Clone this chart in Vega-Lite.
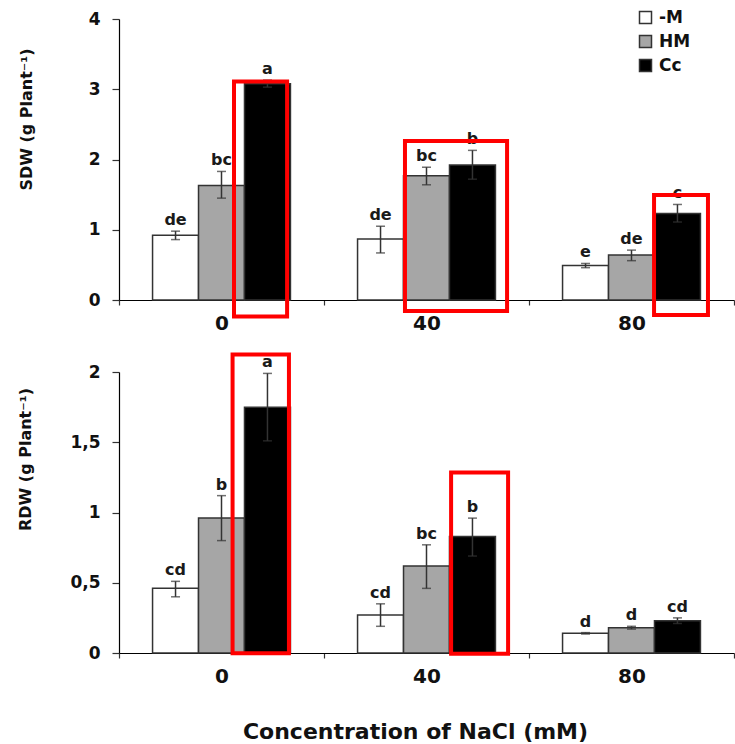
{
  "$schema": "https://vega.github.io/schema/vega-lite/v6.json",
  "padding": {"left": 17, "top": 9, "right": 0, "bottom": 0},
  "autosize": {"type": "pad"},
  "bounds": "flush",
  "spacing": 72,
  "config": {
    "view": {"stroke": null},
    "font": "DejaVu Sans",
    "axis": {
      "grid": false,
      "domainColor": "#000000",
      "domainWidth": 1.2,
      "tickColor": "#333333",
      "tickWidth": 1.2,
      "labelFont": "DejaVu Sans",
      "labelFontWeight": "bold",
      "labelColor": "#111111",
      "titleFont": "DejaVu Sans",
      "titleFontWeight": "bold",
      "titleColor": "#111111"
    }
  },
  "datasets": {
    "sdw": [
      {"nacl": "0", "treatment": "-M", "mean": 0.92, "lo": 0.86, "hi": 0.98, "letter": "de"},
      {"nacl": "0", "treatment": "HM", "mean": 1.63, "lo": 1.45, "hi": 1.83, "letter": "bc"},
      {"nacl": "0", "treatment": "Cc", "mean": 3.08, "lo": 3.03, "hi": 3.13, "letter": "a"},
      {"nacl": "40", "treatment": "-M", "mean": 0.87, "lo": 0.67, "hi": 1.05, "letter": "de"},
      {"nacl": "40", "treatment": "HM", "mean": 1.77, "lo": 1.64, "hi": 1.89, "letter": "bc"},
      {"nacl": "40", "treatment": "Cc", "mean": 1.92, "lo": 1.72, "hi": 2.13, "letter": "b"},
      {"nacl": "80", "treatment": "-M", "mean": 0.49, "lo": 0.46, "hi": 0.52, "letter": "e"},
      {"nacl": "80", "treatment": "HM", "mean": 0.64, "lo": 0.56, "hi": 0.71, "letter": "de"},
      {"nacl": "80", "treatment": "Cc", "mean": 1.23, "lo": 1.11, "hi": 1.36, "letter": "c"}
    ],
    "rdw": [
      {"nacl": "0", "treatment": "-M", "mean": 0.46, "lo": 0.40, "hi": 0.51, "letter": "cd"},
      {"nacl": "0", "treatment": "HM", "mean": 0.96, "lo": 0.80, "hi": 1.12, "letter": "b"},
      {"nacl": "0", "treatment": "Cc", "mean": 1.75, "lo": 1.51, "hi": 1.99, "letter": "a"},
      {"nacl": "40", "treatment": "-M", "mean": 0.27, "lo": 0.19, "hi": 0.35, "letter": "cd"},
      {"nacl": "40", "treatment": "HM", "mean": 0.62, "lo": 0.46, "hi": 0.77, "letter": "bc"},
      {"nacl": "40", "treatment": "Cc", "mean": 0.83, "lo": 0.69, "hi": 0.96, "letter": "b"},
      {"nacl": "80", "treatment": "-M", "mean": 0.14, "lo": 0.135, "hi": 0.145, "letter": "d"},
      {"nacl": "80", "treatment": "HM", "mean": 0.18, "lo": 0.17, "hi": 0.19, "letter": "d"},
      {"nacl": "80", "treatment": "Cc", "mean": 0.23, "lo": 0.21, "hi": 0.25, "letter": "cd"}
    ],
    "boxes": [
      {"panel": "SDW", "x1": 0.561, "x2": 0.820, "y1": -0.235, "y2": 3.11},
      {"panel": "SDW", "x1": 1.395, "x2": 1.893, "y1": -0.157, "y2": 2.263},
      {"panel": "SDW", "x1": 2.610, "x2": 2.873, "y1": -0.214, "y2": 1.495},
      {"panel": "RDW", "x1": 0.554, "x2": 0.829, "y1": -0.002, "y2": 2.124},
      {"panel": "RDW", "x1": 1.620, "x2": 1.898, "y1": -0.005, "y2": 1.285}
    ]
  },
  "vconcat": [
    {
      "width": 615,
      "height": 281,
      "layer": [
        {
          "data": {"name": "sdw"},
          "encoding": {
            "x": {"field": "nacl", "type": "nominal", "sort": ["0", "40", "80"],
                  "scale": {"paddingInner": 0, "paddingOuter": 0},
                  "axis": {"title": null, "labelFontSize": 20, "labelAngle": 0, "labelPadding": 8, "tickBand": "extent", "tickSize": 5}},
            "xOffset": {"field": "treatment", "type": "nominal", "sort": ["-M", "HM", "Cc"],
                        "scale": {"paddingInner": 0, "paddingOuter": 0.73}}
          },
          "layer": [
            {
              "mark": {"type": "bar", "stroke": "#333333", "strokeWidth": 1.5},
              "encoding": {
                "y": {"field": "mean", "type": "quantitative", "scale": {"domain": [0, 4], "nice": false},
                      "axis": {"title": "SDW (g Plant⁻¹)", "values": [0, 1, 2, 3, 4], "format": "d", "tickSize": 7, "labelPadding": 12,
                               "labelFontSize": 17, "titleFontSize": 16, "titlePadding": 54, "titleY": 100}},
                "fill": {"field": "treatment", "type": "nominal",
                         "scale": {"domain": ["-M", "HM", "Cc"], "range": ["#FFFFFF", "#A6A6A6", "#000000"]},
                         "legend": {"title": null, "orient": "none", "legendX": 518, "legendY": -10,
                                    "symbolType": "square", "symbolSize": 144, "symbolStrokeColor": "#333333",
                                    "symbolStrokeWidth": 1.5, "labelFontSize": 17, "labelFont": "DejaVu Sans",
                                    "labelFontWeight": "bold", "labelColor": "#111111", "labelOffset": 5, "rowPadding": 5}}
              }
            },
            {
              "mark": {"type": "rule", "color": "#333333", "strokeWidth": 1.5},
              "encoding": {"y": {"field": "lo", "type": "quantitative"}, "y2": {"field": "hi"}}
            },
            {
              "mark": {"type": "tick", "color": "#333333", "thickness": 1.5, "size": 9},
              "encoding": {"y": {"field": "lo", "type": "quantitative"}}
            },
            {
              "mark": {"type": "tick", "color": "#333333", "thickness": 1.5, "size": 9},
              "encoding": {"y": {"field": "hi", "type": "quantitative"}}
            },
            {
              "mark": {"type": "text", "font": "DejaVu Sans", "fontWeight": "bold", "fontSize": 16, "color": "#1a1a1a", "baseline": "alphabetic", "dy": -6},
              "encoding": {"y": {"field": "hi", "type": "quantitative"}, "text": {"field": "letter"}}
            }
          ]
        },
        {
          "data": {"name": "boxes"},
          "transform": [{"filter": "datum.panel == 'SDW'"}],
          "mark": {"type": "rect", "fill": "transparent", "stroke": "#FF0000", "strokeWidth": 4},
          "encoding": {
            "x": {"field": "x1", "type": "quantitative", "scale": {"domain": [0, 3], "nice": false, "zero": false}, "axis": null},
            "x2": {"field": "x2"},
            "y": {"field": "y1", "type": "quantitative"},
            "y2": {"field": "y2"}
          }
        }
      ],
      "resolve": {"scale": {"x": "independent"}}
    },
    {
      "width": 615,
      "height": 281,
      "layer": [
        {
          "data": {"name": "rdw"},
          "encoding": {
            "x": {"field": "nacl", "type": "nominal", "sort": ["0", "40", "80"],
                  "scale": {"paddingInner": 0, "paddingOuter": 0},
                  "axis": {"title": "Concentration of NaCl (mM)", "titleFontSize": 22, "titlePadding": 35, "titleX": 296,
                           "labelFontSize": 20, "labelAngle": 0, "labelPadding": 8, "tickBand": "extent", "tickSize": 5}},
            "xOffset": {"field": "treatment", "type": "nominal", "sort": ["-M", "HM", "Cc"],
                        "scale": {"paddingInner": 0, "paddingOuter": 0.73}}
          },
          "layer": [
            {
              "mark": {"type": "bar", "stroke": "#333333", "strokeWidth": 1.5},
              "encoding": {
                "y": {"field": "mean", "type": "quantitative", "scale": {"domain": [0, 2], "nice": false},
                      "axis": {"title": "RDW (g Plant⁻¹)", "values": [0, 0.5, 1, 1.5, 2], "tickSize": 7, "labelPadding": 12,
                               "labelExpr": "replace(toString(datum.value), '.', ',')",
                               "labelFontSize": 17, "titleFontSize": 16, "titlePadding": 36, "titleY": 87}},
                "fill": {"field": "treatment", "type": "nominal",
                         "scale": {"domain": ["-M", "HM", "Cc"], "range": ["#FFFFFF", "#A6A6A6", "#000000"]},
                         "legend": null}
              }
            },
            {
              "mark": {"type": "rule", "color": "#333333", "strokeWidth": 1.5},
              "encoding": {"y": {"field": "lo", "type": "quantitative"}, "y2": {"field": "hi"}}
            },
            {
              "mark": {"type": "tick", "color": "#333333", "thickness": 1.5, "size": 9},
              "encoding": {"y": {"field": "lo", "type": "quantitative"}}
            },
            {
              "mark": {"type": "tick", "color": "#333333", "thickness": 1.5, "size": 9},
              "encoding": {"y": {"field": "hi", "type": "quantitative"}}
            },
            {
              "mark": {"type": "text", "font": "DejaVu Sans", "fontWeight": "bold", "fontSize": 16, "color": "#1a1a1a", "baseline": "alphabetic", "dy": -6},
              "encoding": {"y": {"field": "hi", "type": "quantitative"}, "text": {"field": "letter"}}
            }
          ]
        },
        {
          "data": {"name": "boxes"},
          "transform": [{"filter": "datum.panel == 'RDW'"}],
          "mark": {"type": "rect", "fill": "transparent", "stroke": "#FF0000", "strokeWidth": 4},
          "encoding": {
            "x": {"field": "x1", "type": "quantitative", "scale": {"domain": [0, 3], "nice": false, "zero": false}, "axis": null},
            "x2": {"field": "x2"},
            "y": {"field": "y1", "type": "quantitative"},
            "y2": {"field": "y2"}
          }
        }
      ],
      "resolve": {"scale": {"x": "independent"}}
    }
  ],
  "resolve": {"legend": {"fill": "independent"}}
}
